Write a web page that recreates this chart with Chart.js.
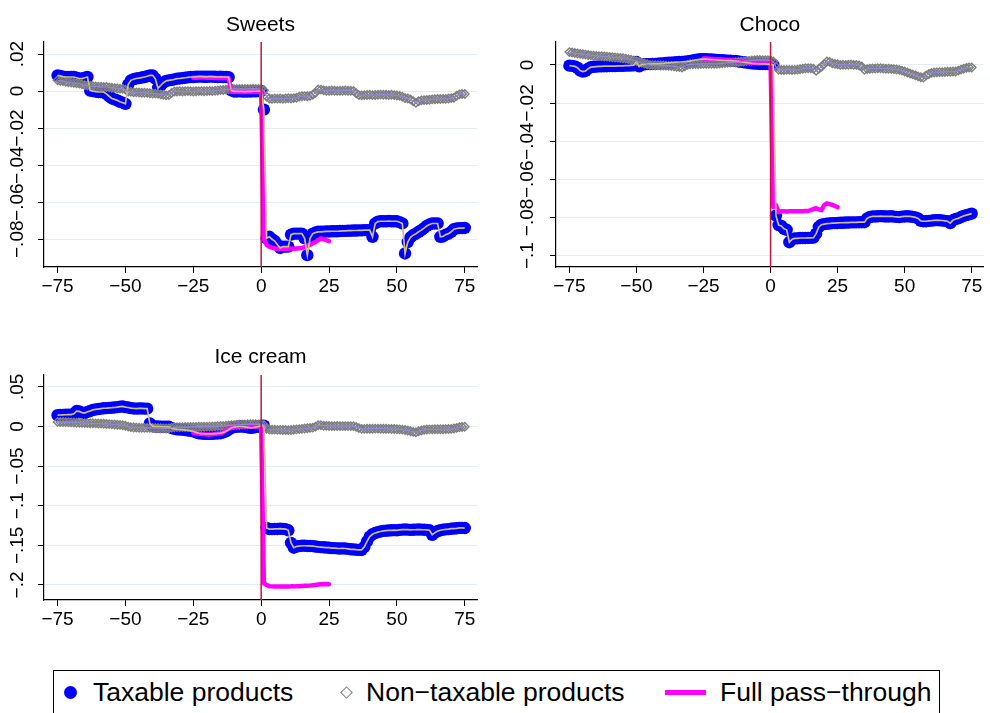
<!DOCTYPE html>
<html>
<head>
<meta charset="utf-8">
<script src="https://cdn.jsdelivr.net/npm/chart.js@4.4.1/dist/chart.umd.min.js"></script>
<style>
  body { margin: 0; background: #fff; width: 990px; height: 713px; overflow: hidden; position: relative;
         font-family: "Liberation Sans", Arial, Helvetica, sans-serif; }
  .panel { position: absolute; }
  #legend { position: absolute; left: 53px; top: 670px; width: 887px; height: 50px; border: 1px solid #000; box-sizing: border-box; }
  #legend .txt { position: absolute; top: 6px; font-size: 26.5px; line-height: 30px; color: #000; white-space: nowrap; }
  #legend .dot { position: absolute; left: 10px; top: 15px; width: 13px; height: 13px; border-radius: 50%; background: #0000ff; }
  #legend .dia { position: absolute; left: 288px; top: 17px; width: 7px; height: 7px; border: 1.5px solid #808080; transform: rotate(45deg); }
  #legend .bar { position: absolute; left: 611px; top: 19px; width: 41px; height: 5px; background: #ff00ff; }
</style>
</head>
<body>
<div class="panel" style="left:0;top:0"><canvas id="sweets" width="490" height="310"></canvas></div>
<div class="panel" style="left:500px;top:0"><canvas id="choco" width="490" height="310"></canvas></div>
<div class="panel" style="left:0;top:340px"><canvas id="icecream" width="490" height="290"></canvas></div>
<div id="legend">
  <span class="dot"></span><span class="txt" style="left:39px">Taxable products</span>
  <span class="dia"></span><span class="txt" style="left:312px">Non−taxable products</span>
  <span class="bar"></span><span class="txt" style="left:666px">Full pass−through</span>
</div>
<script>
// days relative to the tax change
const days = Array.from({ length: 151 }, (_, i) => i - 75);
const fullDays = days.filter(d => d >= -25 && d <= 25);

const xTicks = [-75, -50, -25, 0, 25, 50, 75];
const xTickLabels = ['−75', '−50', '−25', '0', '25', '50', '75'];

// Sweets
const sweetsYTicks = [0.02, 0, -0.02, -0.04, -0.06, -0.08];
const sweetsYLabels = ['.02', '0', '−.02', '−.04', '−.06', '−.08'];
const sweetsTaxable = [
  .0085,.0082,.0078,.0076,.0076,.0076,.0076,.0072,.0068,.0067,
  .0072,.0076,.0003,0,-.0003,-.0005,-.0005,-.0005,-.0015,-.0028,
  -.004,-.0045,-.005,-.0058,-.0063,-.0069,.0035,.0058,.0064,.0068,
  .007,.0073,.0076,.008,.0085,.0085,.0067,.0016,.003,.0045,
  .0055,.0058,.006,.0063,.0067,.0068,.007,.0072,.0074,.0076,
  .0076,.0077,.0078,.0078,.0077,.0077,.0078,.0078,.0077,.0076,
  .0077,.0076,.0076,.0075,.0004,-.0002,-.0002,-.0001,-.0002,-.0003,
  -.0002,-.0002,-.0001,-.0001,0,0,-.010,-.0795,-.0787,-.080,
  -.081,-.083,-.0847,-.084,-.084,-.084,-.0775,-.077,-.077,-.077,
  -.077,-.0795,-.0886,-.0795,-.077,-.0764,-.076,-.076,-.0759,-.0758,
  -.0758,-.0757,-.0757,-.0757,-.0756,-.0755,-.0755,-.0754,-.0754,-.0753,
  -.0753,-.0752,-.0752,-.0751,-.0751,-.0751,-.0787,-.0715,-.0705,-.0703,
  -.0703,-.0703,-.0702,-.0703,-.0703,-.0703,-.0708,-.0715,-.0877,-.0815,
  -.079,-.0778,-.077,-.076,-.0751,-.074,-.0728,-.072,-.0715,-.0715,
  -.0715,-.0787,-.0785,-.0775,-.077,-.076,-.0746,-.0742,-.074,-.074,
  -.0739
];
const sweetsNonTaxable = [
  .0058,.0056,.0054,.005,.0048,.0046,.0045,.0042,.004,.0036,
  .0032,.003,.0028,.0027,.0025,.0024,.0023,.0022,.0022,.002,
  .0018,.0016,.0014,.0013,.0012,.0008,-.0002,-.0004,-.0006,-.0007,
  -.0008,-.0009,-.0009,-.001,-.0012,-.0013,-.0014,-.0015,-.0018,-.002,
  -.0023,-.0022,-.001,-.0002,-.0002,-.0001,-.0002,-.0001,0,-.0001,
  -.0002,-.0001,0,0,-.0001,0,.0001,0,.0002,.0003,
  .0005,.0006,.0008,.0009,.001,.001,.0011,.0012,.0012,.0011,
  .0012,.0012,.0013,.0012,.0011,.001,.0005,-.003,-.004,-.0042,
  -.004,-.0041,-.004,-.0042,-.004,-.0039,-.004,-.0038,-.0036,-.003,
  -.0028,-.0027,-.0028,-.0026,-.002,-.001,.0009,.0008,.0004,.0002,
  .0002,.0003,.0002,.0001,.0002,.0002,.0003,.0002,.0002,.0001,
  -.0012,-.0022,-.0023,-.0022,-.0021,-.002,-.0022,-.0021,-.002,-.0019,
  -.002,-.002,-.0021,-.002,-.0022,-.0024,-.0026,-.003,-.0038,-.004,
  -.0045,-.0055,-.0063,-.0055,-.005,-.0049,-.0048,-.0047,-.0045,-.0044,
  -.0043,-.0043,-.0042,-.0042,-.004,-.0038,-.0036,-.0025,-.0018,-.0016,
  -.0016
];
const sweetsFullPass = [
  .0072,.0072,.0073,.0073,.0073,.0072,.0072,.0072,.0071,.0071,
  .0071,.0071,.007,.007,-.0003,-.0004,-.0004,-.0005,-.0005,-.0005,
  -.0005,-.0005,-.0004,-.0004,-.0003,-.0002,-.080,-.083,-.084,-.0845,
  -.085,-.0851,-.0852,-.0852,-.0851,-.085,-.085,-.0851,-.085,-.0849,
  -.0848,-.0842,-.0835,-.083,-.0822,-.0815,-.0805,-.0796,-.080,-.0805,
  -.081
];

// Choco
const chocoYTicks = [0, -0.02, -0.04, -0.06, -0.08, -0.1];
const chocoYLabels = ['0', '−.02', '−.04', '−.06', '−.08', '−.1'];
const chocoTaxable = [
  -.0004,-.0005,-.0008,-.0015,-.003,-.0035,-.0032,-.002,-.0012,-.001,
  -.0009,-.0008,-.0008,-.0007,-.0007,-.0006,-.0006,-.0006,-.0005,-.0005,
  -.0005,-.0004,-.0004,-.0003,-.0002,.0015,-.0008,.0002,.0003,.0004,
  .0004,.0005,.0005,.0006,.0007,.0008,.001,.0011,.0012,.0013,
  .0014,.0015,.0016,.0017,.0018,.002,.0023,.0026,.0028,.003,
  .003,.003,.0029,.0028,.0027,.0026,.0025,.0024,.0023,.0022,
  .0022,.0021,.002,.0018,.0016,.0014,.0012,.001,.0008,.0007,
  .0006,.0005,.0005,.0005,.0004,.0003,0,-.079,-.084,-.0845,
  -.086,-.0865,-.093,-.0915,-.091,-.091,-.0908,-.0908,-.0908,-.0907,
  -.0907,-.0906,-.0885,-.085,-.0838,-.0835,-.0833,-.0832,-.083,-.083,
  -.0829,-.0828,-.0828,-.0827,-.0827,-.0826,-.0826,-.0826,-.0825,-.0825,
  -.0825,-.0805,-.0798,-.0795,-.0795,-.0794,-.0793,-.0794,-.0795,-.0795,
  -.0794,-.0796,-.0797,-.0798,-.0796,-.0795,-.0794,-.0795,-.0797,-.080,
  -.0805,-.0818,-.082,-.082,-.0818,-.0817,-.0815,-.0814,-.0815,-.0816,
  -.0818,-.082,-.083,-.0815,-.0808,-.0805,-.0798,-.0792,-.0788,-.0784,
  -.078
];
const chocoNonTaxable = [
  .0067,.0065,.0062,.006,.0058,.0056,.0054,.0052,.005,.0048,
  .0047,.0046,.0045,.0044,.0043,.0041,.004,.0039,.0038,.0036,
  .0035,.0033,.003,.0027,.0023,.002,.0015,.0011,.0007,.0003,
  0,-.0001,-.0002,-.0002,-.0003,-.0003,-.0004,-.0005,-.0006,-.0008,
  -.001,-.0012,-.0014,-.0008,0,.0003,.0003,.0004,.0004,.0004,
  .0005,.0005,.0005,.0005,.0005,.0005,.0007,.0008,.001,.0011,
  .0012,.0013,.0014,.0015,.0017,.0018,.002,.0021,.0023,.0024,
  .0026,.0026,.0025,.0025,.0025,.0024,.0018,-.001,-.0026,-.0027,
  -.0027,-.0026,-.0026,-.0027,-.0026,-.0025,-.0023,-.002,-.0018,-.0018,
  -.0018,-.002,-.0031,-.002,-.001,.0005,.0018,.0016,.0008,.0005,
  .0003,0,.0001,0,.0001,.0002,0,0,-.0003,-.0008,
  -.0026,-.0022,-.002,-.0019,-.0019,-.0018,-.0018,-.0019,-.002,-.002,
  -.0021,-.0022,-.0024,-.0026,-.003,-.0035,-.004,-.0045,-.005,-.0055,
  -.006,-.0065,-.0067,-.0055,-.0048,-.0042,-.004,-.0039,-.0038,-.0038,
  -.0037,-.0036,-.0036,-.0035,-.0035,-.003,-.0025,-.002,-.0016,-.0014,
  -.0014
];
const chocoFullPass = [
  .0033,.0033,.0032,.0031,.003,.003,.0029,.0028,.0027,.0026,
  .0025,.0023,.0021,.002,.0019,.0017,.0015,.0012,.001,.001,
  .0009,.0009,.0009,.0009,.0009,.0009,-.0745,-.0735,-.0772,-.0768,
  -.0768,-.0769,-.0768,-.0768,-.0767,-.0768,-.0768,-.0767,-.0766,-.0766,
  -.0762,-.0756,-.0752,-.0758,-.0762,-.0735,-.0726,-.073,-.0734,-.074,
  -.0746
];

// Ice cream
const iceYTicks = [0.05, 0, -0.05, -0.1, -0.15, -0.2];
const iceYLabels = ['.05', '0', '−.05', '−.1', '−.15', '−.2'];
const iceTaxable = [
  .0143,.0145,.0147,.0148,.015,.015,.016,.0195,.019,.0175,
  .017,.0185,.0195,.021,.0215,.022,.0225,.023,.0232,.0235,
  .0237,.024,.0245,.025,.0253,.0245,.024,.0232,.0228,.0225,
  .0228,.0228,.0226,.0225,.004,.0004,0,0,-.0002,-.0003,
  -.0003,-.0004,-.002,-.003,-.0035,-.0038,-.004,-.0045,-.005,-.0055,
  -.006,-.0075,-.0085,-.009,-.0092,-.0093,-.0093,-.0093,-.009,-.0088,
  -.0085,-.0075,-.006,-.004,-.0017,-.0008,-.0003,0,0,-.0005,
  -.001,-.0017,-.0015,-.0008,0,.001,.001,-.128,-.1295,-.1295,
  -.1293,-.1293,-.129,-.1292,-.1295,-.131,-.147,-.153,-.1515,-.151,
  -.1505,-.1505,-.1508,-.1508,-.151,-.1515,-.152,-.1522,-.1525,-.1528,
  -.153,-.1535,-.1535,-.1538,-.154,-.1538,-.154,-.1545,-.155,-.1552,
  -.1555,-.1557,-.1558,-.152,-.145,-.139,-.136,-.1345,-.1333,-.1325,
  -.1318,-.1315,-.1312,-.131,-.1308,-.131,-.1305,-.1302,-.130,-.1302,
  -.1305,-.1303,-.1302,-.130,-.1302,-.1303,-.1305,-.131,-.1367,-.134,
  -.132,-.131,-.1303,-.1298,-.1295,-.129,-.1288,-.1285,-.128,-.128,
  -.1282
];
const iceNonTaxable = [
  .0058,.0057,.0056,.0055,.0053,.0052,.005,.0048,.0047,.0045,
  .0043,.0042,.004,.004,.0039,.0038,.0036,.0034,.0032,.003,
  .0027,.0025,.0022,.002,.0015,.001,-.0002,-.0008,-.0012,-.0014,
  -.0016,-.0017,-.0017,-.0018,-.0018,-.0018,-.0019,-.002,-.0022,-.0024,
  -.0025,-.0023,-.0015,-.001,-.0008,-.0008,-.0008,-.0007,-.0007,-.0006,
  -.0006,-.0005,-.0004,-.0004,-.0003,-.0002,-.0001,0,.0002,.0004,
  .0006,.0008,.001,.0013,.0016,.0018,.002,.0022,.0024,.0026,
  .0028,.003,.003,.0028,.0027,.0025,.002,-.003,-.0038,-.004,
  -.004,-.0042,-.0042,-.0044,-.0045,-.0046,-.0044,-.004,-.0037,-.0033,
  -.003,-.0025,-.0022,-.0018,-.0015,-.0002,.0017,.0015,.001,.0008,
  .0006,.0005,.0005,.0006,.0005,.0004,.0005,.0004,.0004,.0004,
  -.0005,-.002,-.003,-.003,-.0029,-.0028,-.0028,-.0027,-.0027,-.0028,
  -.0028,-.0029,-.003,-.0031,-.0032,-.0034,-.0036,-.004,-.0045,-.005,
  -.006,-.0068,-.0072,-.006,-.005,-.0042,-.0038,-.0037,-.0036,-.0035,
  -.0035,-.0034,-.0034,-.0033,-.0032,-.003,-.0025,-.0018,-.001,-.0006,
  -.0004
];
const iceFullPass = [
  -.008,-.0085,-.009,-.0095,-.0098,-.010,-.010,-.0098,-.0095,-.009,
  -.0085,-.0075,-.005,-.003,-.0017,-.0008,0,.0002,.0004,.0003,
  .0002,0,0,0,0,0,-.198,-.200,-.2015,-.2018,
  -.202,-.202,-.202,-.2018,-.202,-.202,-.2018,-.2018,-.2015,-.2015,
  -.2012,-.201,-.201,-.2008,-.2005,-.200,-.1995,-.1992,-.199,-.1988,
  -.199
];

const FONT = '"Liberation Sans", Arial, Helvetica, sans-serif';
const BLUE = '#0000ff', GREY = '#7e7e7e', MAGENTA = '#ff00ff';
const KHAKI = '#cbbf82', LAVENDER = '#8f87e4', XLINE = '#c4163c';

Chart.defaults.font.family = FONT;

const pts = (xs, ys) => ys.map((y, i) => ({ x: xs[i], y: y }));

function makePanel(id, cfg) {
  const decor = {
    id: 'decor',
    afterDatasetsDraw(chart) {
      const { ctx, chartArea, scales } = chart;
      const px = scales.x.getPixelForValue(0);
      ctx.save();
      ctx.strokeStyle = XLINE;
      ctx.lineWidth = 1.5;
      ctx.beginPath();
      ctx.moveTo(px, chartArea.top);
      ctx.lineTo(px, chartArea.bottom);
      ctx.stroke();
      ctx.restore();
    },
    afterDraw(chart) {
      const { ctx, chartArea, scales } = chart;
      ctx.save();
      ctx.fillStyle = '#000';
      ctx.font = '21px ' + FONT;
      ctx.textAlign = 'center';
      ctx.textBaseline = 'middle';
      ctx.fillText(cfg.title, (chartArea.left + chartArea.right) / 2, cfg.titleY);
      // rotated y tick labels, like Stata
      ctx.font = '19px ' + FONT;
      cfg.yTicks.forEach((v, i) => {
        const py = scales.y.getPixelForValue(v);
        ctx.save();
        ctx.translate(chartArea.left - cfg.labelGap, py);
        ctx.rotate(-Math.PI / 2);
        ctx.fillText(cfg.yLabels[i], 0, 0);
        ctx.restore();
      });
      ctx.restore();
    }
  };

  return new Chart(document.getElementById(id), {
    type: 'scatter',
    data: {
      datasets: [
        { label: 'Taxable products', data: pts(days, cfg.tax), showLine: false,
          pointRadius: 6.2, pointBackgroundColor: BLUE, pointBorderColor: BLUE, pointBorderWidth: 0, order: 6 },
        { label: 'Non-taxable products', data: pts(days, cfg.non), showLine: false, pointStyle: 'rectRot',
          pointRadius: 4.2, pointBackgroundColor: 'rgba(0,0,0,0)', pointBorderColor: GREY, pointBorderWidth: 1.4, order: 5 },
        { label: 'Full pass-through', data: pts(fullDays, cfg.full), showLine: true, borderColor: MAGENTA,
          borderWidth: 4.5, pointRadius: 0, borderCapStyle: 'round', borderJoinStyle: 'round', order: 4 },
        { label: 'taxable line', data: pts(days, cfg.tax), showLine: true, borderColor: KHAKI,
          borderWidth: 1.7, pointRadius: 0, order: 3 },
        { label: 'non-taxable line', data: pts(days, cfg.non), showLine: true, borderColor: LAVENDER,
          borderWidth: 1.2, pointRadius: 0, order: 2 }
      ]
    },
    options: {
      responsive: false,
      animation: false,
      events: [],
      layout: { padding: { left: 0, right: cfg.padRight, top: cfg.padTop, bottom: 0 } },
      plugins: { legend: { display: false }, tooltip: { enabled: false } },
      scales: {
        x: {
          type: 'linear', min: -80, max: 79.5,
          afterBuildTicks: s => { s.ticks = xTicks.map(v => ({ value: v })); },
          afterFit: s => { s.height = cfg.xHeight; },
          ticks: { autoSkip: false, maxRotation: 0, minRotation: 0, padding: 2, color: '#000',
                   font: { size: 19 }, callback: (v, i) => xTickLabels[i] },
          grid: { display: true, drawOnChartArea: false, drawTicks: true, tickLength: 6, tickColor: '#000', tickWidth: 1 },
          border: { display: true, color: '#000', width: 1.2 }
        },
        y: {
          type: 'linear', min: cfg.yMin, max: cfg.yMax,
          afterBuildTicks: s => { s.ticks = cfg.yTicks.map(v => ({ value: v })); },
          afterFit: s => { s.width = cfg.axisLeft; },
          ticks: { display: false },
          grid: { color: '#e4edf1', lineWidth: 1, drawTicks: true, tickLength: 6, tickColor: '#000', tickWidth: 1 },
          border: { display: true, color: '#000', width: 1.2 }
        }
      }
    },
    plugins: [decor]
  });
}

makePanel('sweets', {
  title: 'Sweets', tax: sweetsTaxable, non: sweetsNonTaxable, full: sweetsFullPass,
  yMin: -0.095, yMax: 0.0265, yTicks: sweetsYTicks, yLabels: sweetsYLabels,
  axisLeft: 44, padRight: 13, padTop: 42, xHeight: 43, titleY: 25, labelGap: 26
});
makePanel('choco', {
  title: 'Choco', tax: chocoTaxable, non: chocoNonTaxable, full: chocoFullPass,
  yMin: -0.106, yMax: 0.012, yTicks: chocoYTicks, yLabels: chocoYLabels,
  axisLeft: 56, padRight: 2, padTop: 42, xHeight: 43, titleY: 25, labelGap: 28
});
makePanel('icecream', {
  title: 'Ice cream', tax: iceTaxable, non: iceNonTaxable, full: iceFullPass,
  yMin: -0.219, yMax: 0.065, yTicks: iceYTicks, yLabels: iceYLabels,
  axisLeft: 44, padRight: 13, padTop: 35, xHeight: 30, titleY: 17, labelGap: 26
});
</script>
</body>
</html>
